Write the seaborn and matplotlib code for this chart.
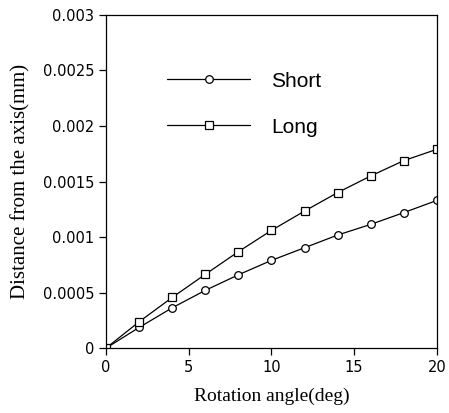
import numpy as np
import pandas as pd
import matplotlib
matplotlib.use('Agg')
import matplotlib.pyplot as plt
import seaborn as sns

# dados
angulo = [0, 2, 4, 6, 8, 10, 12, 14, 16, 18, 20]
curto = [0, 0.000186, 0.000363, 0.00052, 0.00066, 0.00079, 0.000904,
         0.001018, 0.001114, 0.00122, 0.00133]
longo = [0, 0.000237, 0.000456, 0.000664, 0.000868, 0.00106, 0.001234,
         0.0014, 0.00155, 0.001688, 0.00179]
x_ticks = [0, 5, 10, 15, 20]
y_ticks = [0, 0.0005, 0.001, 0.0015, 0.002, 0.0025, 0.003]
y_labels = ['0', '0.0005', '0.001', '0.0015', '0.002', '0.0025', '0.003']

df = pd.DataFrame({'Ano': angulo, 'Short': curto, 'Long': longo})

sns.set_style('ticks')
plt.rcParams['font.family'] = ['DejaVu Sans']
plt.rcParams['text.color'] = 'black'

fig = plt.figure(figsize=(4.49, 4.13), dpi=100)
ax = fig.add_axes([0.236, 0.157, 0.737, 0.807])

sns.lineplot(data=df, x='Ano', y='Short', ax=ax, color='black', lw=0.9,
             marker='o', markersize=5.5, markerfacecolor='white',
             markeredgecolor='black', markeredgewidth=0.9, label='Short')
sns.lineplot(data=df, x='Ano', y='Long', ax=ax, color='black', lw=0.9,
             marker='s', markersize=5.5, markerfacecolor='white',
             markeredgecolor='black', markeredgewidth=0.9, label='Long')

ax.set_xlim(0, 20)
ax.set_ylim(0, 0.003)
ax.set_xticks(x_ticks)
ax.set_xticklabels([str(t) for t in x_ticks])
ax.set_yticks(y_ticks)
ax.set_yticklabels(y_labels)
ax.tick_params(direction='out', length=5, width=0.9, labelsize=10.5, colors='black')
for s in ax.spines.values():
    s.set_color('black')
    s.set_linewidth(0.9)

ax.set_xlabel('Rotation angle(deg)', family='Liberation Serif', fontsize=14,
              labelpad=9, color='black')
ax.set_ylabel('Distance from the axis(mm)', family='Liberation Serif', fontsize=15,
              labelpad=9, color='black')

leg = ax.legend(loc='upper left', bbox_to_anchor=(0.184, 0.83), frameon=False,
                borderpad=0, borderaxespad=0,
                handlelength=4, numpoints=1, labelspacing=1.3, handletextpad=1.0,
                prop={'family': 'Liberation Sans', 'size': 15})
for t in leg.get_texts():
    t.set_color('black')

fig.savefig('out.png', dpi=100)
